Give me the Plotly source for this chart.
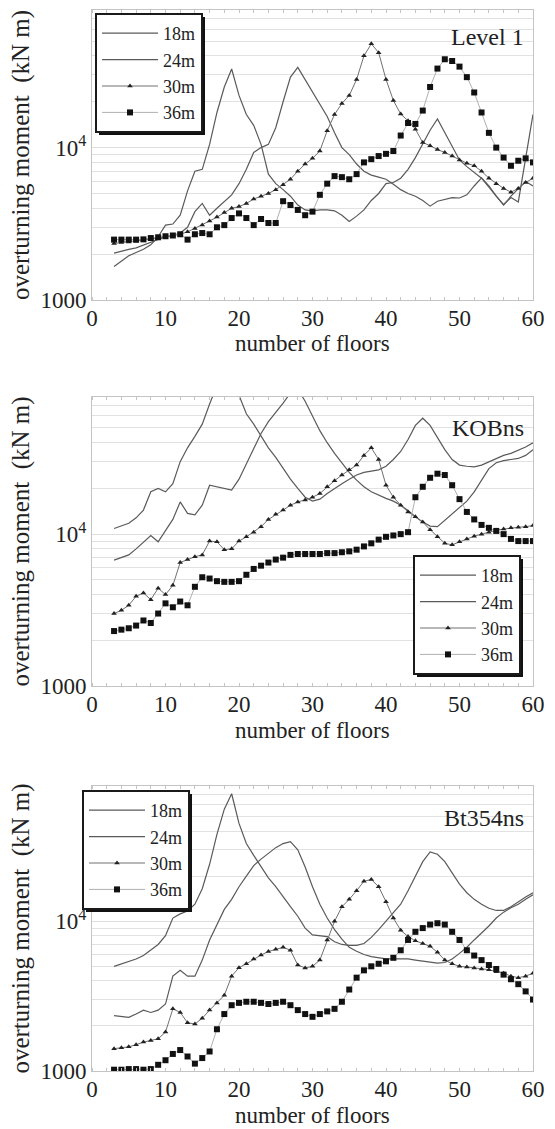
import plotly.graph_objects as go

floors = [3, 4, 5, 6, 7, 8, 9, 10, 11, 12, 13, 14, 15, 16, 17, 18, 19, 20, 21, 22, 23, 24, 25, 26, 27, 28, 29, 30,
          31, 32, 33, 34, 35, 36, 37, 38, 39, 40, 41, 42, 43, 44, 45, 46, 47, 48, 49, 50, 51, 52, 53, 54, 55, 56,
          57, 58, 59, 60]
series_names = ["18m", "24m", "30m", "36m"]
panel_labels = ["Level 1", "KOBns", "Bt354ns"]
x_ticks = [0, 10, 20, 30, 40, 50, 60]
y_ticks = [1000, 10000]
y_ticktext = ["1000", "10<sup>4</sup>"]
x_title = "number of floors"
y_title = "overturning moment  (kN m)"

# ---- Level 1 ----
L1_18 = [1660, 1800, 1950, 2050, 2150, 2300, 2600, 3100, 3150, 3600, 5200, 7000, 7200, 10500, 17000, 25000, 32800,
         22000, 16500, 14000, 10500, 6700, 5800, 5300, 4800, 4200, 3900, 3850, 3900, 3900, 3850, 3600, 3280, 3550,
         3900, 4500, 5000, 5800, 5900, 6300, 7200, 8600, 10500, 13000, 15400, 12500, 10300, 8300, 7500, 6900, 6300,
         5500, 4800, 4200, 4800, 5400, 6000, 5600]
L1_24 = [2030, 2100, 2150, 2200, 2300, 2400, 2500, 2600, 2650, 2750, 3000, 3800, 4300, 3600, 4000, 4400, 4900,
         5800, 7200, 9300, 10000, 10500, 13500, 20000, 29000, 33600, 28000, 23000, 19300, 16000, 12500, 10000, 9000,
         7800, 7000, 6600, 6400, 6200, 5750, 5300, 5000, 4800, 4500, 4130, 4450, 4600, 4700, 4670, 4900, 5600, 6330,
         5600, 4800, 4230, 4700, 4400, 8500, 16500]
L1_30 = [2350, 2380, 2400, 2430, 2460, 2500, 2550, 2600, 2650, 2700, 2800, 2950, 3100, 3300, 3500, 3750, 4000,
         4100, 4300, 4600, 4800, 5000, 5300, 5700, 6200, 7000, 7800, 8500, 9500, 12900, 16500, 19500, 22000, 28000,
         40000, 48000, 42000, 28000, 20400, 16600, 15000, 13200, 10800, 10300, 9700, 9300, 8800, 8300, 7900, 7600,
         7000, 6300, 5800, 5400, 5100, 5400, 5900, 6300]
L1_36 = [2490, 2490, 2490, 2490, 2500, 2550, 2580, 2620, 2650, 2700, 2490, 2700, 2750, 2700, 3000, 3100, 3450,
         3700, 3450, 3100, 3400, 3200, 3200, 4450, 4200, 3900, 3600, 3800, 4900, 5800, 6500, 6400, 6200, 6700, 8000,
         8400, 8800, 9100, 9500, 12000, 14500, 14300, 17500, 25000, 33000, 38000, 37000, 34000, 29000, 23000, 17000,
         12500, 10000, 8600, 7600, 8200, 8500, 8000]

# ---- KOBns ----
K_18 = [10900, 11300, 11800, 12800, 14400, 19000, 20000, 19000, 21500, 30000, 37000, 44000, 53000, 72000, 95000,
        115000, 120000, 82000, 62000, 53000, 44000, 37000, 32000, 27000, 23000, 20000, 17500, 16500, 17000, 18500,
        20000, 21500, 23000, 24500, 25500, 26000, 26500, 28000, 31000, 35000, 42000, 52000, 58000, 52000, 43000,
        36000, 31000, 28500, 28000, 27700, 28500, 30000, 31500, 33000, 34000, 35500, 37500, 40000]
K_24 = [6750, 7000, 7300, 8000, 8800, 9800, 8900, 10500, 12500, 16300, 13700, 13400, 15500, 21000, 20500, 19800,
        19500, 23000, 29000, 37000, 46000, 55000, 63000, 73000, 85000, 90000, 75000, 60000, 48000, 40000, 34000,
        29500, 25500, 22700, 20500, 19000, 18000, 17200, 16500, 15500, 14300, 13000, 12000, 11300, 11200, 12300,
        13500, 15000, 16500, 19000, 22500, 27000, 29500, 30500, 31000, 31500, 33000, 36000]
K_30 = [3000, 3150, 3400, 3900, 4100, 3700, 4400, 4000, 4600, 6500, 6800, 7100, 7300, 9000, 8900, 7900, 8000,
        9000, 9600, 10300, 11200, 12500, 13500, 14400, 15500, 16300, 16800, 17500, 18500, 20500, 22500, 24500,
        26500, 28500, 33000, 37000, 31000, 21000, 17500, 15500, 14000, 13000, 12000, 10700, 9600, 8700, 8500, 8900,
        9300, 9700, 10000, 10300, 10600, 10800, 11000, 11100, 11200, 11400]
K_36 = [2300, 2350, 2400, 2500, 2700, 2600, 3000, 3500, 3300, 3600, 3400, 4500, 5200, 5100, 4900, 4850, 4850,
        4900, 5400, 5900, 6200, 6500, 6800, 7000, 7300, 7400, 7400, 7400, 7400, 7500, 7500, 7600, 7700, 7900, 8300,
        8700, 9200, 9600, 9800, 10000, 10300, 17500, 20500, 23500, 25000, 24500, 21000, 17000, 14000, 12500, 11500,
        11000, 10500, 10000, 9300, 9000, 9000, 9000]

# ---- Bt354ns ----
B_18 = [5000, 5200, 5400, 5600, 5900, 6400, 7000, 8000, 10500, 11200, 11700, 13000, 16500, 24000, 38000, 56000,
        71000, 45000, 33000, 27500, 23000, 19500, 17000, 14500, 12500, 10800, 9000, 8100, 8000, 7900, 7300, 7000,
        6900, 6900, 7100, 7800, 8800, 10000, 11500, 13000, 16000, 20000, 25000, 29000, 28000, 25000, 21000, 17700,
        15500, 14000, 13000, 12200, 11800, 11800, 12500, 13500, 14500, 15500]
B_24 = [2340, 2300, 2280, 2400, 2550, 2460, 2550, 2800, 4300, 4700, 4300, 4300, 5500, 7500, 9600, 12000, 14000,
        17000, 20000, 23500, 26000, 28500, 31000, 33000, 34000, 30000, 23000, 17000, 13000, 10500, 8800, 7600,
        6700, 6300, 6000, 5800, 5700, 5600, 5600, 5600, 5600, 5500, 5400, 5300, 5250, 5300, 5600, 6100, 6700, 7500,
        8300, 9300, 10500, 11500, 12300, 13000, 14000, 15000]
B_30 = [1410, 1430, 1450, 1500, 1560, 1600, 1640, 1820, 2600, 2460, 2100, 2060, 2250, 2550, 2850, 3200, 4300,
        4900, 5200, 5600, 5950, 6280, 6500, 6700, 6400, 5100, 4880, 5000, 5500, 7500, 10000, 12500, 14000, 16000,
        18500, 19000, 17000, 13500, 10500, 8700, 7900, 7400, 7100, 6800, 6200, 5500, 5200, 5000, 4950, 4880, 4800,
        4750, 4600, 4500, 4300, 4200, 4300, 4500]
B_36 = [1020, 1020, 1030, 1030, 1020, 1030, 1100, 1180, 1300, 1380, 1250, 1120, 1220, 1350, 1900, 2400, 2750,
        2850, 2900, 2900, 2850, 2800, 2850, 2900, 2750, 2550, 2400, 2300, 2400, 2500, 2600, 2900, 3500, 4200, 4700,
        5000, 5200, 5400, 5700, 6400, 7500, 8500, 9000, 9500, 9700, 9500, 8500, 7500, 6400, 5900, 5500, 5100, 4800,
        4400, 4100, 3800, 3400, 3000]

panels = [[L1_18, L1_24, L1_30, L1_36], [K_18, K_24, K_30, K_36], [B_18, B_24, B_30, B_36]]
for p in panels:
    for s in p:
        assert len(s) == len(floors), len(s)

FONT = "Liberation Serif, Times New Roman, serif"
INK = "#222222"

styles = [
    dict(mode="lines", line=dict(color="#5a5a5a", width=1.2)),
    dict(mode="lines", line=dict(color="#5a5a5a", width=1.2)),
    dict(mode="lines+markers", line=dict(color="#707070", width=1),
         marker=dict(symbol="triangle-up", size=5, color="#222222")),
    dict(mode="lines+markers", line=dict(color="#b0b0b0", width=1),
         marker=dict(symbol="square", size=6, color="#111111")),
]

fig = go.Figure()
legend_ids = ["legend", "legend2", "legend3"]
for i, p in enumerate(panels):
    xa = "x" if i == 0 else f"x{i+1}"
    ya = "y" if i == 0 else f"y{i+1}"
    for j, s in enumerate(p):
        fig.add_trace(go.Scatter(x=floors, y=s, name=series_names[j], xaxis=xa, yaxis=ya,
                                 legend=legend_ids[i], **styles[j]))

# page geometry (px): plot x 92..533 ; panels y (10..300), (397..686), (786..1071)
W, H = 555, 1129
L, R, T, B = 92, 22, 10, 58
PW = W - L - R
ph = H - T - B
def dom(top, bot):
    return [(H - B - bot) / ph, (H - B - top) / ph]

panel_px = [(10, 300), (397, 686), (786, 1071)]
domains = [dom(a, b) for a, b in panel_px]

minor_y = [2000, 3000, 4000, 5000, 6000, 7000, 8000, 9000, 20000, 30000, 40000, 50000, 60000, 70000, 80000]
layout = dict(width=W, height=H, margin=dict(l=L, r=R, t=T, b=B, autoexpand=False), paper_bgcolor="white",
              plot_bgcolor="white", font=dict(family=FONT, color=INK, size=23), showlegend=True)

for i in range(3):
    xk = "xaxis" if i == 0 else f"xaxis{i+1}"
    yk = "yaxis" if i == 0 else f"yaxis{i+1}"
    ya = "y" if i == 0 else f"y{i+1}"
    xa = "x" if i == 0 else f"x{i+1}"
    layout[xk] = dict(domain=[0, 1], anchor=ya, range=[0, 60], tickvals=x_ticks, showgrid=False,
                      showline=True, linecolor="#c4c4c4", linewidth=1, mirror="ticks", ticks="",
                      zeroline=False, tickfont=dict(size=23, family=FONT, color=INK), ticklabelstandoff=-3,
                      minor=dict(dtick=2, ticks="inside", ticklen=3, tickcolor="#c4c4c4"))
    layout[yk] = dict(domain=domains[i], anchor=xa, type="log", range=[3, 4.903], tickvals=y_ticks,
                      ticktext=y_ticktext, showgrid=True, gridcolor="#dedede", showline=True,
                      linecolor="#c4c4c4", linewidth=1, mirror=True, ticks="", zeroline=False,
                      tickfont=dict(size=23, family=FONT, color=INK),
                      minor=dict(tickvals=minor_y, showgrid=True, gridcolor="#e2e2e2", ticks=""),
                      title=dict(text=y_title, font=dict(size=25, family=FONT, color=INK), standoff=3))

# legend boxes (page px): left, top, width, height
LEG_W, LEG_H = 107, 119
leg_boxes = [(95, 13), (520 - LEG_W, 674 - LEG_H), (82, 790)]
leg_common = dict(font=dict(family=FONT, size=18, color=INK), bgcolor="white", bordercolor="#1a1a1a",
                  borderwidth=2, tracegroupgap=0, itemwidth=56, xanchor="left", yanchor="top")
for i, (lx, ly) in enumerate(leg_boxes):
    layout[legend_ids[i]] = dict(x=(lx - L) / PW, y=(H - B - ly) / ph, **leg_common)

fig.update_layout(**layout)

# drop shadows behind the legend boxes
for lx, ly in leg_boxes:
    fig.add_shape(type="rect", xref="paper", yref="paper", layer="above",
                  x0=(lx + 4 - L) / PW, x1=(lx + LEG_W + 3 - L) / PW,
                  y0=(H - B - (ly + LEG_H + 3)) / ph, y1=(H - B - (ly + 4)) / ph,
                  fillcolor="#111111", line=dict(width=0))

label_y = [(300 - 37) / 290, (686 - 428) / 289, (1071 - 818) / 285]
for i, txt in enumerate(panel_labels):
    xa = "x" if i == 0 else f"x{i+1}"
    ya = "y" if i == 0 else f"y{i+1}"
    top, bot = panel_px[i]
    fig.add_annotation(text=txt, xref=f"{xa} domain", yref=f"{ya} domain", x=0.985, y=label_y[i],
                       xanchor="right", yanchor="middle", showarrow=False,
                       font=dict(family=FONT, size=24, color=INK))
    fig.add_annotation(text=x_title, xref=f"{xa} domain", yref=f"{ya} domain", x=0.5,
                       y=-44 / (bot - top), xanchor="center", yanchor="middle", showarrow=False,
                       font=dict(family=FONT, size=23, color=INK))

fig.write_html("out.html", config={"displayModeBar": False},
               post_script="document.body.style.margin='0px';")
